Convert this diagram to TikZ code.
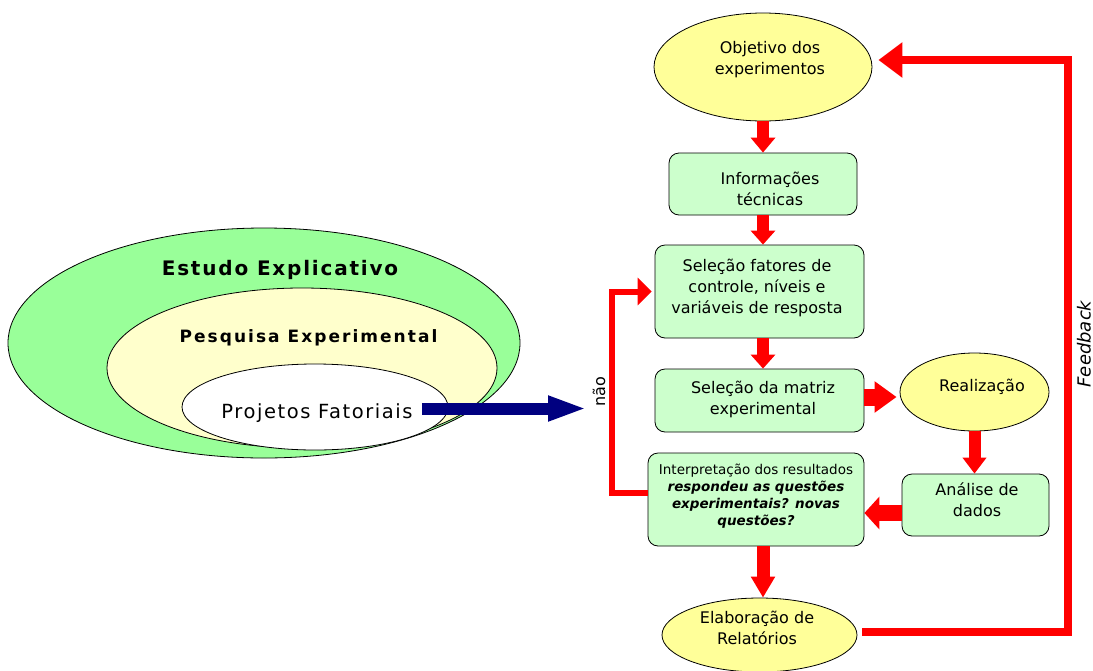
\documentclass[tikz,border=0pt]{standalone}
\usepackage{fontspec}
\setmainfont{DejaVu Sans}[BoldFont={DejaVu Sans Bold},ItalicFont={DejaVu Sans Oblique},BoldItalicFont={DejaVu Sans Bold Oblique}]
\newfontfamily\spacedA{DejaVu Sans}[LetterSpace=9,BoldFont={DejaVu Sans Bold}]
\newfontfamily\spacedB{DejaVu Sans}[LetterSpace=12,BoldFont={DejaVu Sans Bold}]
\newfontfamily\spacedC{DejaVu Sans}[LetterSpace=8]
\usetikzlibrary{shapes.geometric,arrows.meta}
\definecolor{boxgreen}{HTML}{CCFFCC}
\definecolor{ellyellow}{HTML}{FFFF99}
\definecolor{outgreen}{HTML}{99FF99}
\definecolor{midyellow}{HTML}{FFFFCC}
\definecolor{navyblue}{HTML}{000080}
\definecolor{pured}{HTML}{FF0000}
\begin{document}
\begin{tikzpicture}[x=1pt,y=-1pt,
  stepbox/.style={draw=black,line width=0.8pt,fill=boxgreen,rounded corners=10pt,inner sep=0pt},
  yell/.style={ellipse,draw=black,line width=0.8pt,fill=ellyellow,inner sep=0pt},
  ring/.style={ellipse,draw=black,line width=0.8pt,inner sep=0pt},
  lbl/.style={font=\fontsize{16}{21}\selectfont,align=center,inner sep=0pt},
  redarr/.style={draw=pured,line width=#1},
]
\useasboundingbox (0,0) rectangle (1093,670);
\clip (0,0) rectangle (1093,670);
\fill[white] (0,0) rectangle (1093,670);

% left nested ellipses
\node[ring,fill=outgreen,minimum width=512pt,minimum height=230pt] (outer) at (264,343) {};
\node[ring,fill=midyellow,minimum width=390pt,minimum height=160pt] (mid) at (302,368) {};
\node[ring,fill=white,minimum width=266pt,minimum height=86pt] (inner) at (315,407) {};
\node[inner sep=0pt,anchor=base,font={\spacedA\bfseries\fontsize{20}{24}\selectfont}] (testudo) at (280,275) {Estudo Explicativo};
\node[inner sep=0pt,anchor=base,font={\spacedB\bfseries\fontsize{17}{20}\selectfont}] (tpesq) at (308.5,342) {Pesquisa Experimental};
\node[inner sep=0pt,anchor=base,font={\spacedC\fontsize{19.5}{23}\selectfont}] (tproj) at (317,418) {Projetos Fatoriais};

% flowchart shapes
\node[yell,minimum width=218pt,minimum height=108pt] (obj) at (763,67) {};
\node[stepbox,minimum width=188pt,minimum height=62pt] (info) at (763,184) {};
\node[stepbox,minimum width=209pt,minimum height=93pt] (sel1) at (759.5,291.5) {};
\node[stepbox,minimum width=209pt,minimum height=63pt] (mat) at (759.5,400.5) {};
\node[yell,minimum width=149pt,minimum height=78pt] (real) at (974.5,392) {};
\node[stepbox,minimum width=147pt,minimum height=62pt] (ana) at (975.5,505) {};
\node[stepbox,minimum width=216pt,minimum height=93pt] (interp) at (756,499.5) {};
\node[yell,minimum width=195pt,minimum height=74pt] (elab) at (759.5,635) {};

% texts
\node[lbl] (tobj) at (770,59.5) {Objetivo dos\\experimentos};
\node[lbl] (tinfo) at (770,188.5) {Informações\\técnicas};
\node[lbl] (tsel1) at (757,288) {Seleção fatores de\\controle, níveis e\\variáveis de resposta};
\node[lbl] (tmat) at (763,399.5) {Seleção da matriz\\experimental};
\node[lbl] (treal) at (982,387) {Realização};
\node[lbl] (tana) at (977,499.5) {Análise de\\dados};
\node[lbl,font=\fontsize{13.5}{17.2}\selectfont] (tint) at (756,496) {Interpretação dos resultados\\\textbf{\textit{respondeu as questões}}\\\textbf{\textit{experimentais? novas}}\\\textbf{\textit{questões?}}};
\node[lbl] (telab) at (757,628) {Elaboração de\\Relatórios};
\node[lbl,rotate=90] (tnao) at (599,392) {não};
\node[lbl,rotate=90,font=\fontsize{18}{21}\selectfont\itshape] (tfeed) at (1084,344) {Feedback};

% red block arrows
\draw[redarr=12pt,-{Triangle[width=24pt,length=15pt]}] (obj.south) -- (info.north);
\draw[redarr=12pt,-{Triangle[width=24pt,length=14pt]}] (info.south) -- (info.south |- sel1.north);
\draw[redarr=12pt,-{Triangle[width=24pt,length=14pt]}] (info.south |- sel1.south) -- (info.south |- mat.north);
\coordinate (m4) at ([yshift=3.5pt]mat.east);
\coordinate (r4) at ([xshift=-3pt]real.west);
\draw[redarr=17pt,-{Triangle[width=30pt,length=22pt]}] (m4) -- (m4 -| r4);
\draw[redarr=12pt,-{Triangle[width=23pt,length=16pt]}] (real.south) -- (real.south |- ana.north);
\coordinate (a6) at ([yshift=-8pt]ana.west);
\draw[redarr=16pt,-{Triangle[width=32pt,length=15pt]}] (a6) -- (a6 -| interp.east);
\draw[redarr=13pt,-{Triangle[width=23pt,length=21pt]}] (info.south |- interp.south) -- (info.south |- elab.north);

% feedback loop
\coordinate (fb0) at ([xshift=5pt,yshift=3pt]elab.east);
\coordinate (fb1) at (1067.5,632);
\coordinate (fb2) at (1067.5,60);
\coordinate (objin) at ([xshift=6pt]obj.east);
\draw[redarr=8pt,-{Triangle[width=34pt,length=24pt]}] (fb0) -- (fb1) -- (fb2) -- (objin |- fb2);

% nao loop
\coordinate (n0) at ([yshift=6.5pt]interp.west);
\coordinate (nc) at (612,291.5);
\coordinate (selin) at ([xshift=-3pt]sel1.west);
\draw[redarr=6pt,-{Triangle[width=27pt,length=14pt]}] (n0) -| (nc) -- (selin);

% blue arrow
\coordinate (btip) at (587,408.5);
\path (tproj.east) ++(9,0) coordinate (bt0);
\draw[draw=navyblue,line width=12pt,-{Triangle[width=23pt,length=39pt]}] (bt0 |- btip) -- (btip);
\end{tikzpicture}
\end{document}
